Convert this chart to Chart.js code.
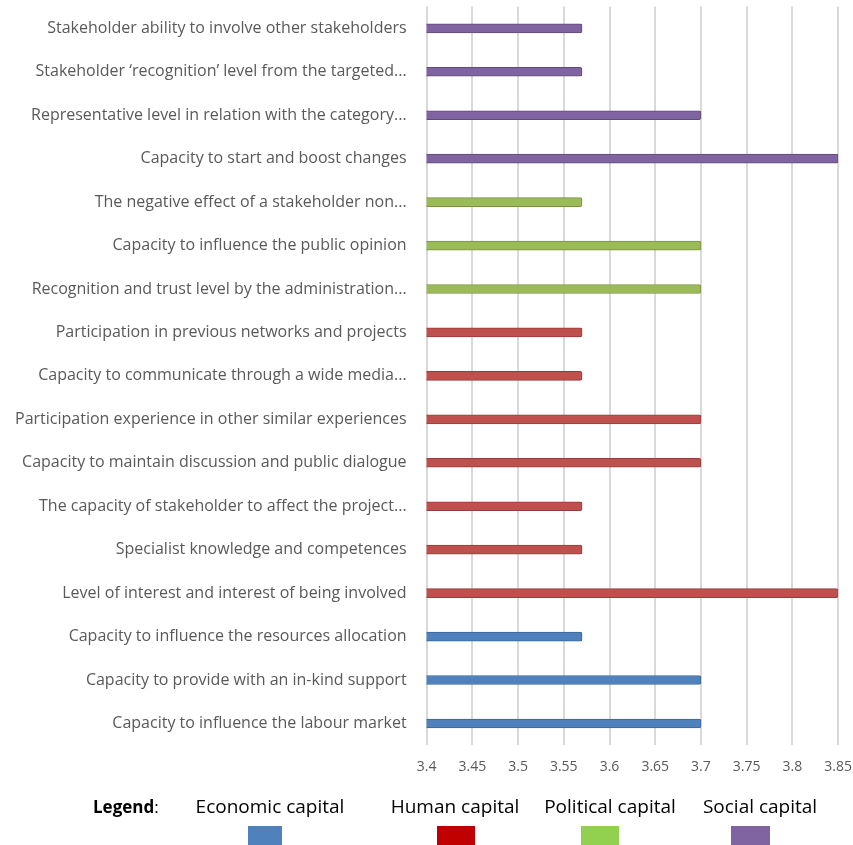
<!DOCTYPE html>
<html>
<head>
<meta charset="utf-8">
<script src="https://cdn.jsdelivr.net/npm/chart.js@4/dist/chart.umd.min.js"></script>
<style>
html,body{margin:0;padding:0;background:#fff;overflow:hidden;}
#wrap{position:relative;width:853px;height:845px;overflow:hidden;}
#c{position:absolute;left:0;top:-15px;}
</style>
</head>
<body>
<div id="wrap"><canvas id="c" width="865" height="864"></canvas></div>
<script>
const categories = [
  "Stakeholder ability to involve other stakeholders",
  "Stakeholder \u2018recognition\u2019 level from the targeted...",
  "Representative level in relation with the category...",
  "Capacity to start and boost changes",
  "The negative effect of a stakeholder non...",
  "Capacity to influence the public opinion",
  "Recognition and trust level by the administration...",
  "Participation in previous networks and projects",
  "Capacity to communicate through a wide media...",
  "Participation experience in other similar experiences",
  "Capacity to maintain discussion and public dialogue",
  "The capacity of stakeholder to affect the project...",
  "Specialist knowledge and competences",
  "Level of interest and interest of being involved",
  "Capacity to influence the resources allocation",
  "Capacity to provide with an in-kind support",
  "Capacity to influence the labour market"
];
const economic  = [null,null,null,null,null,null,null,null,null,null,null,null,null,null,3.57,3.70,3.70];
const human     = [null,null,null,null,null,null,null,3.57,3.57,3.70,3.70,3.57,3.57,3.85,null,null,null];
const political = [null,null,null,null,3.57,3.70,3.70,null,null,null,null,null,null,null,null,null,null];
const social    = [3.57,3.57,3.70,3.85,null,null,null,null,null,null,null,null,null,null,null,null,null];
const seriesNames = ["Economic capital","Human capital","Political capital","Social capital"];
const xTicks = [3.4,3.45,3.5,3.55,3.6,3.65,3.7,3.75,3.8,3.85];

const barColors = ["#4f81bd","#c0504d","#9bbb59","#8064a2"];
const barBorders = ["#3a6596","#963c3a","#77933c","#5f4b7a"];
const legendColors = ["#4f81bd","#c00000","#92d050","#8064a2"];

function ds(data,i){
  return {label:seriesNames[i],data:data,backgroundColor:barColors[i],borderColor:barBorders[i],
    borderWidth:1,borderRadius:2,borderSkipped:false,barThickness:9,grouped:false};
}

const OFF = 15; // canvas shifted up by this many px
const legendPlugin = {
  id:'customLegend',
  afterDraw(chart){
    const ctx = chart.ctx;
    ctx.save();
    ctx.textBaseline='middle';
    ctx.font='bold 17px "Open Sans", sans-serif';
    ctx.fillStyle='#000';
    ctx.textAlign='left';
    ctx.fillText('Legend',93,808+OFF);
    const w = ctx.measureText('Legend').width;
    ctx.font='17px "Open Sans", sans-serif';
    ctx.fillText(':',93+w,808+OFF);
    ctx.font='19px "Open Sans", sans-serif';
    const cx=[270,455,610,760];
    const bx=[248,437,581,731];
    const bw=[34,38,38,39];
    ctx.textAlign='center';
    for(let i=0;i<4;i++){
      ctx.fillStyle='#000';
      ctx.fillText(seriesNames[i],cx[i],808+OFF);
      ctx.fillStyle=legendColors[i];
      ctx.fillRect(bx[i],826+OFF,bw[i],30);
    }
    ctx.restore();
  }
};

new Chart(document.getElementById('c'),{
  type:'bar',
  data:{labels:categories,datasets:[ds(economic,0),ds(human,1),ds(political,2),ds(social,3)]},
  options:{
    indexAxis:'y',
    responsive:false,
    animation:false,
    layout:{padding:{top:0,right:0,bottom:61,left:3}},
    plugins:{legend:{display:false},tooltip:{enabled:false}},
    scales:{
      x:{min:3.4,max:3.85,
        afterBuildTicks(ax){ax.ticks=xTicks.map(v=>({value:v}));},
        ticks:{color:'#595959',font:{size:14,family:'"Open Sans", sans-serif'},padding:13,
          callback:(v)=>String(Math.round(v*100)/100)},
        grid:{color:'#d9d9d9',lineWidth:2,drawTicks:false},
        border:{display:false}
      },
      y:{
        ticks:{color:'#595959',font:{size:16,family:'"Open Sans", sans-serif'},padding:12,autoSkip:false},
        grid:{display:false},
        border:{display:false}
      }
    }
  },
  plugins:[legendPlugin]
});
</script>
</body>
</html>
